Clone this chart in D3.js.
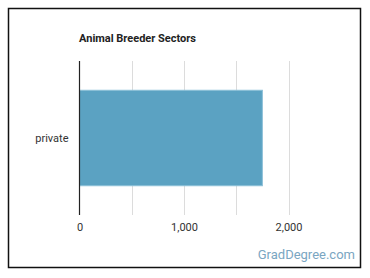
<!DOCTYPE html>
<html><head><meta charset="utf-8">
<script src="https://cdn.jsdelivr.net/npm/d3@7"></script>
<style>body{margin:0;background:#fff;}svg{display:block;font-family:Roboto,"Noto Sans",sans-serif;}</style>
</head><body>
<svg id="c" width="370" height="278"></svg>
<script>
const categories = ["private"];
const values = [1750];
const tickValues = [0, 1000, 2000];
const gridValues = [0, 500, 1000, 1500, 2000];
const title = "Animal Breeder Sectors";

const svg = d3.select("#c");
svg.append("rect").attr("x", 8.5).attr("y", 8.5).attr("width", 352).attr("height", 259)
  .attr("fill", "#fff").attr("stroke", "#111").attr("stroke-width", 1.5);

const x = d3.scaleLinear().domain([0, 2000]).range([79.5, 288.5]);
const y = d3.scaleBand().domain(categories).range([61, 215]).paddingInner(0.38).paddingOuter(0.19);

svg.append("text").attr("x", 79).attr("y", 42).attr("font-size", 11).attr("font-weight", "bold")
  .attr("fill", "#222").text(title);

svg.append("g").selectAll("line").data(gridValues.slice(1)).join("line")
  .attr("x1", d => Math.round(x(d)) + 0.5).attr("x2", d => Math.round(x(d)) + 0.5)
  .attr("y1", 61).attr("y2", 215).attr("stroke", "#dcdcdc").attr("stroke-width", 1);

svg.append("g").selectAll("rect").data(values).join("rect")
  .attr("x", x(0)).attr("y", (d, i) => y(categories[i]))
  .attr("width", d => x(d) - x(0)).attr("height", y.bandwidth())
  .attr("fill", "#5ba2c2").attr("stroke", "#8cc0d8").attr("stroke-width", 1);

svg.append("line").attr("x1", x(0)).attr("x2", x(0)).attr("y1", 61).attr("y2", 215)
  .attr("stroke", "#222").attr("stroke-width", 1.2);

const yAxis = d3.axisLeft(y).tickSize(0).tickPadding(11);
svg.append("g").attr("transform", `translate(${x(0)},0)`).call(yAxis)
  .call(g => g.select(".domain").remove())
  .selectAll("text").attr("font-size", 11).attr("fill", "#333").attr("font-family", "Roboto, sans-serif");

const xAxis = d3.axisBottom(x).tickValues(tickValues).tickFormat(d3.format(",")).tickSize(0).tickPadding(8);
svg.append("g").attr("transform", `translate(0,215)`).call(xAxis)
  .call(g => g.select(".domain").remove())
  .selectAll("text").attr("font-size", 11).attr("fill", "#333").attr("font-family", "Roboto, sans-serif");

svg.append("text").attr("x", 355).attr("y", 259).attr("text-anchor", "end")
  .attr("font-size", 13).attr("fill", "#7aa6c2").text("GradDegree.com");
</script>
</body></html>
